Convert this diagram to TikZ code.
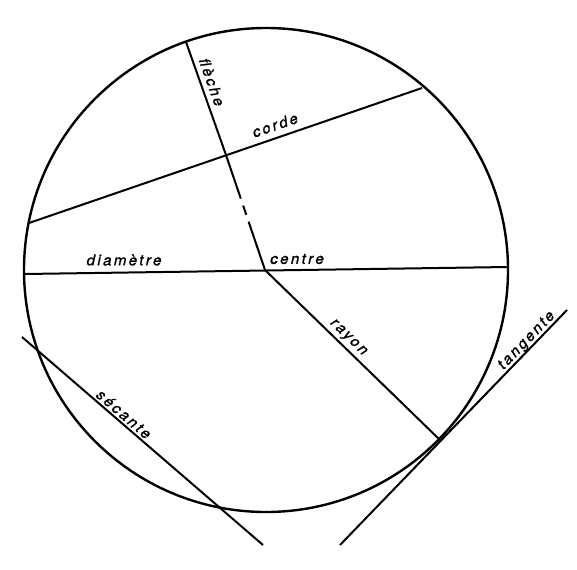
\documentclass[tikz,border=0pt]{standalone}
\usepackage{fontspec}
\usetikzlibrary{calc}
\newfontfamily\labfont[LetterSpace=16,FakeBold=1.3]{TeX Gyre Heros}
\tikzset{
  geo/.style={line width=2pt, black},
  circ/.style={line width=2.4pt, black},
  lab/.style={font=\labfont\itshape\fontsize{15}{18}\selectfont, inner sep=0pt, black}
}
\begin{document}
\begin{tikzpicture}[x=1pt,y=-1pt]
\useasboundingbox (0,0) rectangle (577,569);
% points
\coordinate (O) at (266,270);
\coordinate (Dl) at (25,274);
\coordinate (Dr) at (508,267);
\coordinate (Cl) at (29,223);
\coordinate (Cr) at (422,88);
\coordinate (Ft) at (186,42);
\coordinate (F) at (226,155);
\coordinate (C) at (265,270);
\coordinate (T) at (440,440);
\coordinate (Ta) at (340,545);
\coordinate (Tb) at (567,310);
\coordinate (Sa) at (22,337);
\coordinate (Sb) at (263,545);
% circle
\draw[circ] (O) circle[radius=242];
% diameter
\draw[geo] (Dl) -- (Dr);
% chord
\draw[geo] (Cl) -- (Cr);
% fleche
\draw[geo] (Ft) -- (F) -- ($(F)!0.38!(C)$);
\draw[geo] ($(F)!0.44!(C)$) -- ($(F)!0.52!(C)$);
\draw[geo] ($(F)!0.58!(C)$) -- (C);
% rayon
\draw[geo] (C) -- (T);
% tangente
\draw[geo] (Ta) -- (Tb);
% secante
\draw[geo] (Sa) -- (Sb);
% labels
\node[lab, rotate=-70.5] (lfleche) at (212,82) {flèche};
\node[lab, rotate=19] (lcorde) at (275,125) {corde};
\node[lab] (ldiam) at (124,260) {diamètre};
\node[lab] (lcentre) at (297,259) {centre};
\node[lab, rotate=-44.2] (lrayon) at (348,338) {rayon};
\node[lab, rotate=46] (ltang) at (527,341) {tangente};
\node[lab, rotate=-40.8] (lsec) at (124,414) {sécante};
\end{tikzpicture}
\end{document}
